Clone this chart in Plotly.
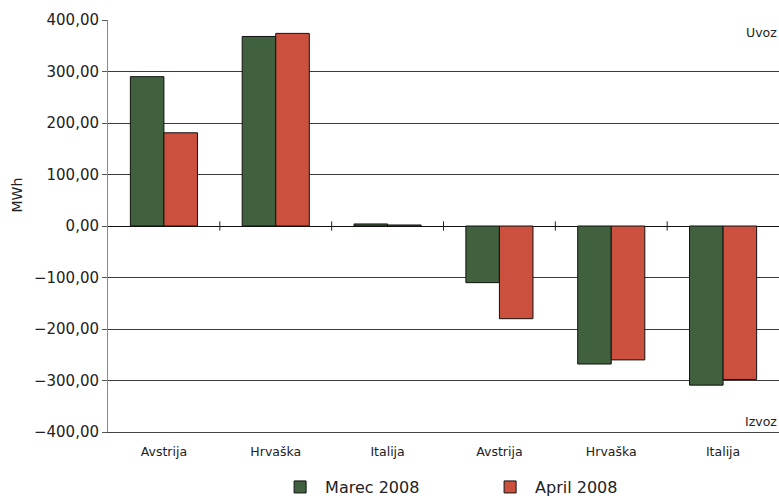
import plotly.graph_objects as go

categories = ["Avstrija", "Hrvaška", "Italija", "Avstrija", "Hrvaška", "Italija"]
marec_2008 = [290, 368, 4, -110, -268, -309]
april_2008 = [181, 374, 2, -180, -260, -298]
y_ticks = [-400, -300, -200, -100, 0, 100, 200, 300, 400]

x_pos = list(range(len(categories)))
font = "DejaVu Sans"

fig = go.Figure()
fig.add_trace(go.Bar(x=x_pos, y=marec_2008, name="Marec 2008",
                     marker=dict(color="#41603e", line=dict(color="#111111", width=1))))
fig.add_trace(go.Bar(x=x_pos, y=april_2008, name="April 2008",
                     marker=dict(color="#cb503e", line=dict(color="#111111", width=1))))

# tick marks on the zero line at category boundaries
for b in range(1, len(categories)):
    fig.add_shape(type="line", xref="x", yref="y", x0=b - 0.5, x1=b - 0.5, y0=-9, y1=9,
                  line=dict(color="#222222", width=1))

fig.update_layout(
    width=779, height=498,
    margin=dict(l=108, r=0, t=20, b=66, autoexpand=False),
    paper_bgcolor="white", plot_bgcolor="white",
    barmode="group", bargap=0.4, bargroupgap=0,
    separators=",.",
    font=dict(family=font, size=15, color="#222222"),
    showlegend=True,
    legend=dict(orientation="h", x=0.562, xanchor="center", y=0.022, yref="container",
                yanchor="middle", font=dict(size=16), entrywidth=155, itemwidth=40,
                traceorder="normal"),
    xaxis=dict(tickmode="array", tickvals=x_pos, ticktext=categories,
               range=[-0.5, len(categories) - 0.5], showgrid=False,
               tickfont=dict(size=12.5), ticks="outside", ticklen=8,
               tickcolor="rgba(0,0,0,0)", showline=True, linecolor="#444444",
               zeroline=False),
    yaxis=dict(range=[-400, 400], tickvals=y_ticks, tickformat=".2f",
               showgrid=True, gridcolor="#3a3a3a", gridwidth=1,
               zeroline=True, zerolinecolor="#111111", zerolinewidth=1,
               showline=True, linecolor="#888888", linewidth=1,
               ticks="outside", ticklen=5, tickcolor="#555555",
               tickfont=dict(size=15)),
)

fig.add_annotation(text="MWh", textangle=-90, xref="paper", yref="paper",
                   x=-0.135, y=0.575, showarrow=False, font=dict(size=14),
                   xanchor="center", yanchor="middle")
fig.add_annotation(text="Uvoz", xref="paper", yref="paper", x=1.0, y=0.97,
                   xanchor="right", yanchor="middle", showarrow=False, font=dict(size=12.5))
fig.add_annotation(text="Izvoz", xref="paper", yref="paper", x=1.0, y=0.025,
                   xanchor="right", yanchor="middle", showarrow=False, font=dict(size=12.5))

fig.write_html("out.html")
